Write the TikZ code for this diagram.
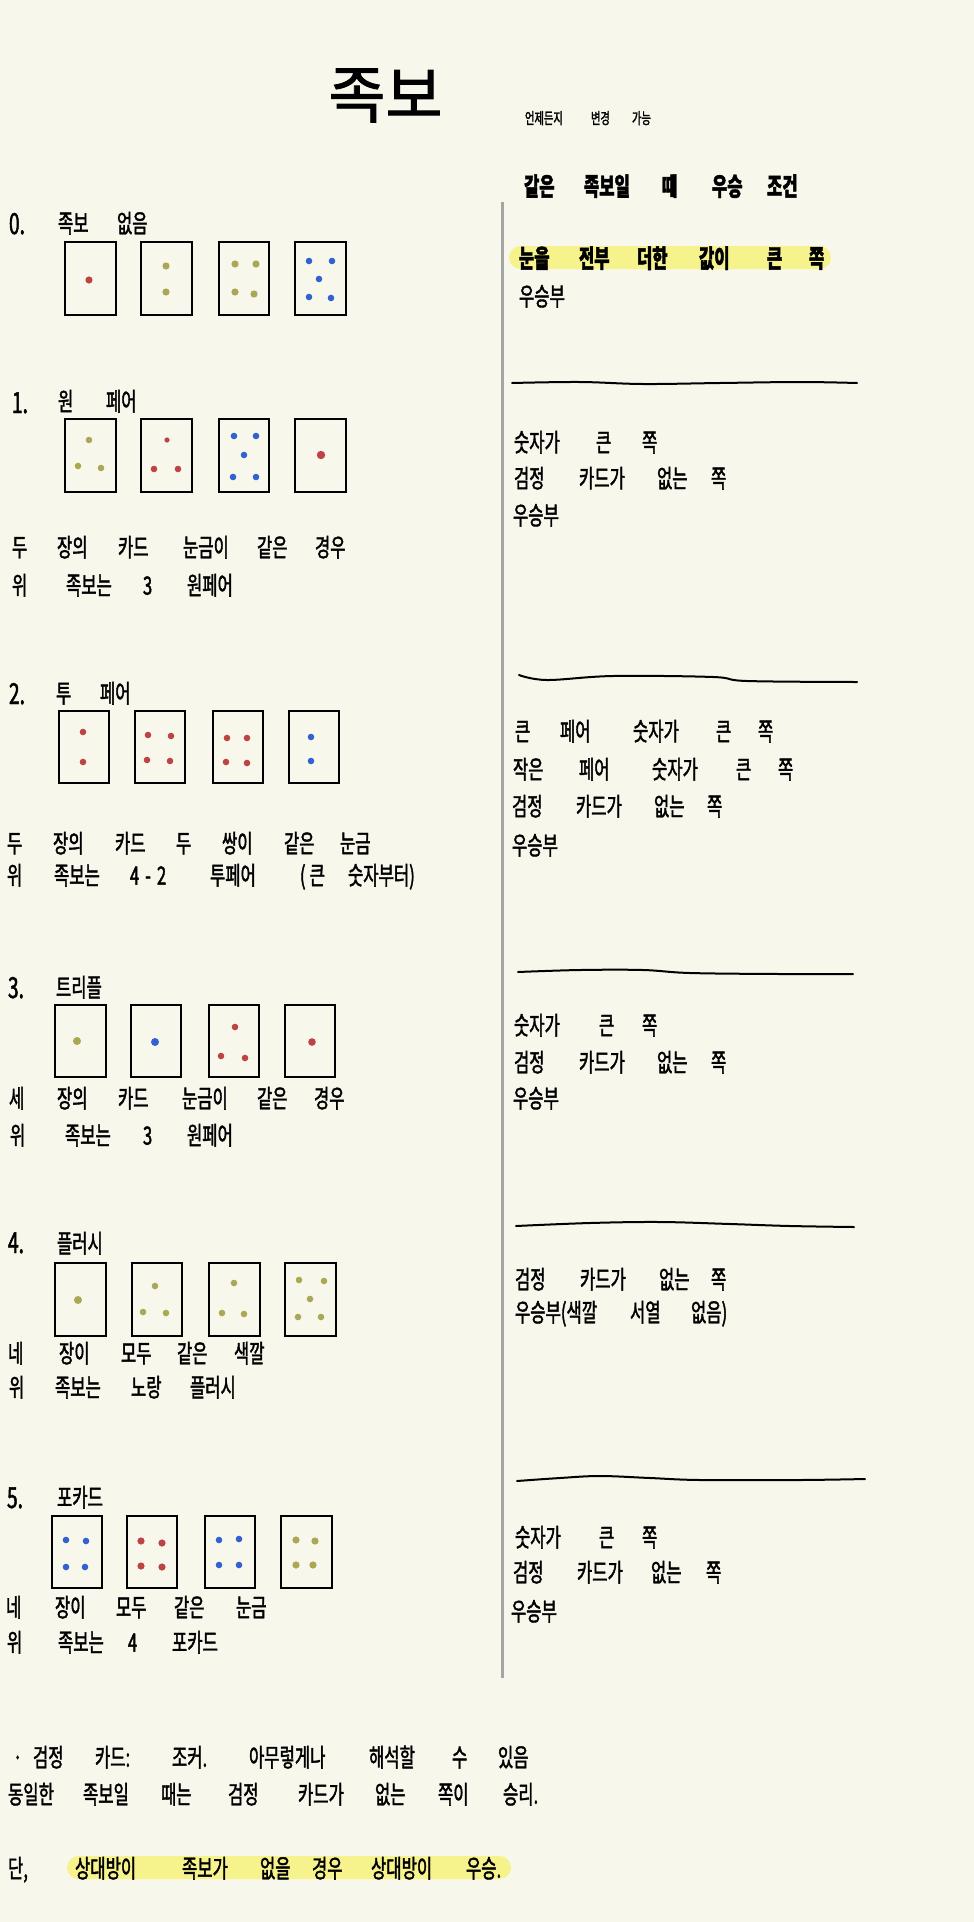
\documentclass[tikz,border=0pt]{standalone}
\usepackage{fontspec}
\newfontfamily\hand[FakeStretch=0.66, FakeBold=1.6]{Noto Sans CJK KR}
\newfontfamily\handw[FakeBold=1.5]{Noto Sans CJK KR}
\definecolor{bg}{RGB}{248,247,236}
\definecolor{dred}{RGB}{190,68,68}
\definecolor{dolive}{RGB}{170,168,84}
\definecolor{dblue}{RGB}{50,98,210}
\definecolor{hl}{RGB}{247,243,140}
\definecolor{sepgray}{RGB}{165,165,165}
\newcommand\words[4][hw]{\foreach \wx/\wt [count=\wi] in {#4}{\node[#1] (#2-\wi) at (\wx,#3) {\wt};}}
\newcommand\pips[3][1.65pt]{\foreach \px/\py in {#3}{\fill[#2] (\px,\py) circle (#1);}}
\begin{document}
\begin{tikzpicture}[x=0.5pt,y=-0.5pt,
  hw/.style={font=\hand\fontsize{12.6pt}{15pt}\selectfont, anchor=west, inner sep=0pt, outer sep=0pt, text height=10.5pt, text depth=0.9pt},
  hwb/.style={hw, font=\hand\bfseries\fontsize{12.6pt}{15pt}\selectfont},
  num/.style={hw, font=\hand\fontsize{14.5pt}{17pt}\selectfont, text height=12pt, text depth=1pt},
  sm/.style={hw, font=\hand\fontsize{7.8pt}{9pt}\selectfont, text height=6.5pt, text depth=0.5pt},
  cardbox/.style={draw=black, line width=1.15pt, minimum width=25.3pt, minimum height=36.3pt, inner sep=0pt},
  wavy/.style={draw=black, line width=1pt, line cap=round},
  sepline/.style={draw=sepgray, line width=1.25pt}]
\fill[bg] (0,0) rectangle (974,1922);
\useasboundingbox (0,0) rectangle (974,1922);

% title
\node[font=\handw\fontsize{31pt}{35pt}\selectfont, anchor=west, inner sep=0pt, text height=25.7pt, text depth=2.2pt] (title) at (328,94) {족보};
\words[sm]{note}{118}{525/언제든지, 591/변경, 632/가능}

% separator
\draw[sepline] (502.5,202) -- (502.5,1678);

% ---------- section 0
\node[num] (n0) at (9,223) {0.};
\words{s0h}{223}{58/족보, 117/없음}
\node[cardbox] (c0-1) at (90.5,278.5) {};
\node[cardbox] (c0-2) at (166.5,278.5) {};
\node[cardbox] (c0-3) at (244,278.5) {};
\node[cardbox] (c0-4) at (320.5,278.5) {};
\pips[1.8pt]{dred}{89/280}
\pips[1.8pt]{dolive}{166/266, 166/292}
\pips[1.8pt]{dolive}{235/264, 256/264, 235/292, 254/294}
\pips{dblue}{309/261, 332/261, 319/279, 309/297, 331/298}

% ---------- section 1
\node[num] (n1) at (12,402) {1.};
\words{s1h}{401}{58/원, 106/페어}
\node[cardbox] (c1-1) at (90.5,455.5) {};
\node[cardbox] (c1-2) at (166.5,455.5) {};
\node[cardbox] (c1-3) at (244,455.5) {};
\node[cardbox] (c1-4) at (320.5,455.5) {};
\pips{dolive}{89/440, 78/466, 101/468}
\pips[1.3pt]{dred}{167/440}
\pips{dred}{154/469, 178/469}
\pips{dblue}{234/436, 256/436, 244/455, 233/477, 256/477}
\pips[2.1pt]{dred}{321/455}
\words{s1a}{547}{12/두, 57/장의, 118/카드, 183/눈금이, 257/같은, 315/경우}
\words{s1b}{585}{12/위, 66/족보는, 143/3, 187/원페어}

% ---------- section 2
\node[num] (n2) at (9,693) {2.};
\words{s2h}{693}{56/투, 100/페어}
\node[cardbox] (c2-1) at (84,747) {};
\node[cardbox] (c2-2) at (160,747) {};
\node[cardbox] (c2-3) at (238,747) {};
\node[cardbox] (c2-4) at (314,747) {};
\pips{dred}{83/732, 83/762}
\pips{dred}{148/735, 171/736, 147/760, 170/761}
\pips{dred}{227/738, 247/738, 226/762, 247/763}
\pips{dblue}{311/737, 311/761}
\words{s2a}{843}{7/두, 53/장의, 115/카드, 176/두, 222/쌍이, 284/같은, 340/눈금}
\words{s2b}{875}{7/위, 54/족보는, 130/4\hspace{3pt}-\hspace{3pt}2, 210/투페어, 300/(\hspace{2pt}큰, 348/숫자부터)}

% ---------- section 3
\node[num] (n3) at (8,987) {3.};
\words{s3h}{987}{56/트리플}
\node[cardbox] (c3-1) at (80.5,1041) {};
\node[cardbox] (c3-2) at (156,1041) {};
\node[cardbox] (c3-3) at (234,1041) {};
\node[cardbox] (c3-4) at (310,1041) {};
\pips[2pt]{dolive}{77/1041}
\pips[2pt]{dblue}{155/1042}
\pips{dred}{235/1027, 221/1056, 245/1058}
\pips[1.9pt]{dred}{312/1042}
\words{s3a}{1098}{9/세, 57/장의, 118/카드, 182/눈금이, 257/같은, 314/경우}
\words{s3b}{1135}{10/위, 65/족보는, 143/3, 187/원페어}

% ---------- section 4
\node[num] (n4) at (8,1242) {4.};
\words{s4h}{1243}{57/플러시}
\node[cardbox] (c4-1) at (80.5,1299.5) {};
\node[cardbox] (c4-2) at (157,1299.5) {};
\node[cardbox] (c4-3) at (234.5,1299.5) {};
\node[cardbox] (c4-4) at (310.5,1299.5) {};
\pips[2pt]{dolive}{78/1300}
\pips{dolive}{155/1286, 143/1312, 166/1313}
\pips{dolive}{234/1283, 222/1313, 244/1314}
\pips{dolive}{299/1280, 324/1281, 310/1299, 298/1317, 321/1317}
\words{s4a}{1353}{8/네, 59/장이, 121/모두, 177/같은, 234/색깔}
\words{s4b}{1387}{9/위, 55/족보는, 131/노랑, 190/플러시}

% ---------- section 5
\node[num] (n5) at (7,1497) {5.};
\words{s5h}{1497}{57/포카드}
\node[cardbox] (c5-1) at (77,1552) {};
\node[cardbox] (c5-2) at (152,1552) {};
\node[cardbox] (c5-3) at (230,1552) {};
\node[cardbox] (c5-4) at (306.5,1552) {};
\pips{dblue}{66/1540, 86/1541, 66/1567, 85/1567}
\pips[1.8pt]{dred}{141/1541, 162/1543, 141/1566, 162/1567}
\pips{dblue}{219/1540, 239/1539, 219/1565, 239/1565}
\pips[1.8pt]{dolive}{296/1540, 315/1541, 296/1565, 313/1565}
\words{s5a}{1607}{6/네, 55/장이, 116/모두, 174/같은, 236/눈금}
\words{s5b}{1642}{7/위, 58/족보는, 128/4, 172/포카드}

% ---------- right column
\words[hwb]{rh}{186}{524/같은, 584/족보일, 662/때, 712/우승, 767/조건}
\fill[hl, rounded corners=5.75pt] (509,246) rectangle (831,269);
\words[hwb]{r0a}{258}{519/눈을, 579/전부, 637/더한, 699/값이, 767/큰, 809/쪽}
\words{r0b}{296}{519/우승부}

\draw[wavy] plot[smooth, tension=0.6] coordinates {(512,383) (580,382) (643,384) (720,383) (800,382) (857,383)};
\words{r1a}{442}{514/숫자가, 596/큰, 642/쪽}
\words{r1b}{478}{514/검정, 579/카드가, 657/없는, 711/쪽}
\words{r1c}{515}{513/우승부}

\draw[wavy] plot[smooth, tension=0.6] coordinates {(519,675) (547,680) (613,676) (713,677) (747,681) (857,682)};
\words{r2a}{731}{515/큰, 560/페어, 633/숫자가, 716/큰, 758/쪽}
\words{r2b}{769}{513/작은, 579/페어, 652/숫자가, 736/큰, 778/쪽}
\words{r2c}{806}{512/검정, 576/카드가, 654/없는, 707/쪽}
\words{r2d}{845}{512/우승부}

\draw[wavy] plot[smooth, tension=0.6] coordinates {(518,972) (580,970) (643,970) (690,973) (780,974) (853,974)};
\words{r3a}{1025}{514/숫자가, 599/큰, 642/쪽}
\words{r3b}{1062}{514/검정, 579/카드가, 657/없는, 711/쪽}
\words{r3c}{1098}{513/우승부}

\draw[wavy] plot[smooth, tension=0.6] coordinates {(516,1226) (590,1223) (660,1222) (730,1224) (790,1226) (854,1227)};
\words{r4a}{1279}{515/검정, 580/카드가, 659/없는, 711/쪽}
\words{r4b}{1312}{515/우승부(색깔, 630/서열, 691/없음)}

\draw[wavy] plot[smooth, tension=0.6] coordinates {(517,1481) (560,1478) (600,1476) (650,1478) (700,1480) (800,1480) (865,1479)};
\words{r5a}{1537}{515/숫자가, 599/큰, 642/쪽}
\words{r5b}{1572}{513/검정, 577/카드가, 651/없는, 706/쪽}
\words{r5c}{1611}{511/우승부}

% ---------- bottom notes
\words{b1}{1757}{13/·, 33/검정, 95/카드:, 172/조커., 249/아무렇게나, 369/해석할, 452/수, 498/있음}
\words{b2}{1794}{8/동일한, 83/족보일, 161/때는, 228/검정, 298/카드가, 375/없는, 438/쪽이, 503/승리.}
\fill[hl, rounded corners=5.75pt] (67,1856) rectangle (511,1879);
\node[hw] (b3-0) at (8,1868) {단,};
\words{b3}{1868}{75/상대방이, 182/족보가, 260/없을, 312/경우, 371/상대방이, 466/우승.}
\end{tikzpicture}
\end{document}
